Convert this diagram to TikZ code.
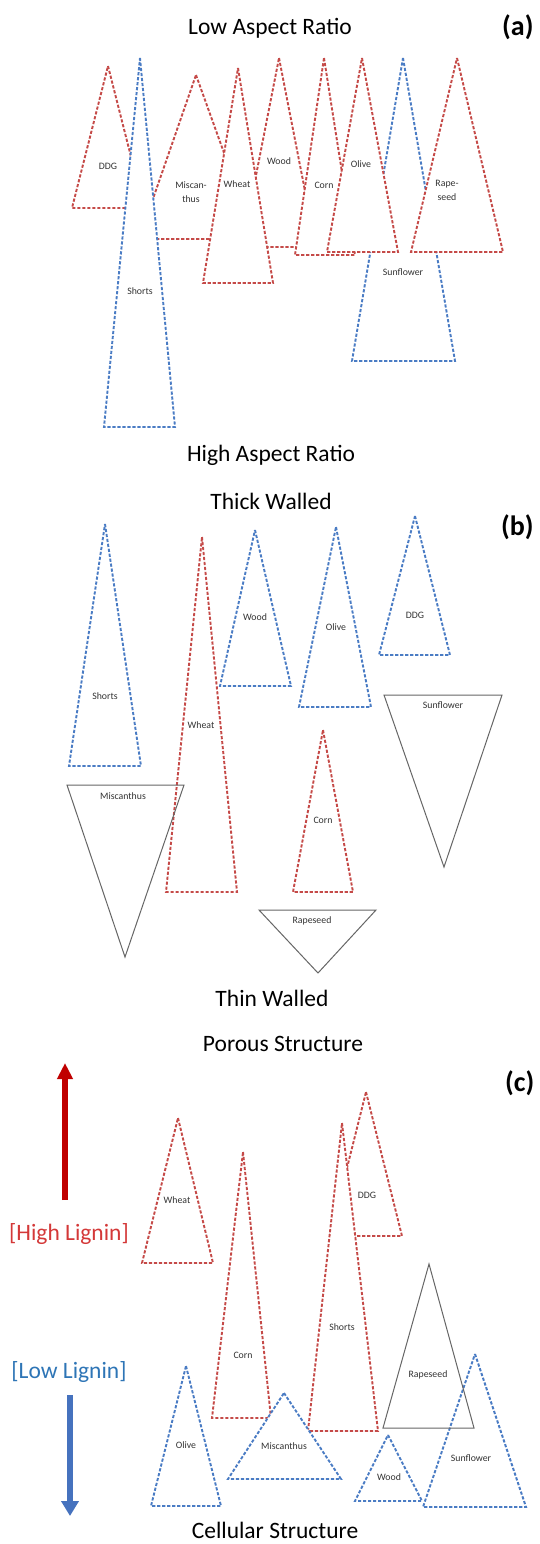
\documentclass[tikz,border=0pt]{standalone}
\usepackage{fontspec}
\setmainfont{Carlito}
\usepackage{tikz}
\usetikzlibrary{arrows.meta}
\definecolor{trired}{RGB}{197,74,72}
\definecolor{triblue}{RGB}{74,124,196}
\definecolor{arrred}{RGB}{192,0,0}
\definecolor{arrblue}{RGB}{70,114,190}
\definecolor{txtred}{RGB}{212,56,56}
\definecolor{txtblue}{RGB}{46,117,182}
\tikzset{
  redtri/.style={draw=trired, fill=white, line width=1.9pt, dash pattern=on 3.2pt off 1.8pt},
  bluetri/.style={draw=triblue, fill=white, line width=1.9pt, dash pattern=on 3.2pt off 1.8pt},
  greytri/.style={draw=black!60, line width=1pt},
  heading/.style={font=\fontsize{23.5}{26}\selectfont},
  panel/.style={font=\fontsize{28}{30}\selectfont\bfseries, anchor=west, inner sep=0pt},
  lbl/.style={font=\fontsize{9.8}{14}\selectfont, text=black!80, align=center, inner sep=0pt},
  lignin/.style={font=\fontsize{23.5}{26}\selectfont},
}

\begin{document}
\begin{tikzpicture}[x=1pt,y=-1pt]
\path[fill=white,use as bounding box] (0,0) rectangle (540,1544);

\node[heading] (lowAR) at (270,28) {Low Aspect Ratio};
\node[panel] (pa) at (502,27) {(a)};
\draw[redtri] (108,66) -- (144,208) -- (72,208) -- cycle;
\node[lbl] (aDDG) at (108,166) {DDG};
\draw[redtri] (196,75) -- (255,239) -- (139,239) -- cycle;
\node[lbl] (aMiscanthus) at (191,192) {Miscan-\\thus};
\draw[bluetri] (140,58) -- (175,427) -- (104,427) -- cycle;
\node[lbl] (aShorts) at (140,291) {Shorts};
\draw[redtri] (279,58) -- (316,247) -- (242,247) -- cycle;
\node[lbl] (aWood) at (279,161) {Wood};
\draw[redtri] (238,68) -- (273,283) -- (203,283) -- cycle;
\node[lbl] (aWheat) at (237,184) {Wheat};
\draw[redtri] (324,58) -- (355,255) -- (295,255) -- cycle;
\node[lbl] (aCorn) at (324,185) {Corn};
\draw[bluetri] (403,58) -- (455,361) -- (352,361) -- cycle;
\node[lbl] (aSunflower) at (403,272) {Sunflower};
\draw[redtri] (362,58) -- (398,252) -- (327,252) -- cycle;
\node[lbl] (aOlive) at (361,164) {Olive};
\draw[redtri] (457,58) -- (503,252) -- (411,252) -- cycle;
\node[lbl] (aRapeseed) at (447,190) {Rape-\\seed};
\node[heading] (highAR) at (271,455) {High Aspect Ratio};

\node[heading] (thick) at (271,501) {Thick Walled};
\node[panel] (pb) at (501,527) {(b)};
\draw[bluetri] (105,524) -- (141,766) -- (69,766) -- cycle;
\node[lbl] (bShorts) at (105,696) {Shorts};
\draw[redtri] (202,537) -- (237,892) -- (166,892) -- cycle;
\node[lbl] (bWheat) at (201,725) {Wheat};
\draw[bluetri] (255,530) -- (291,686) -- (220,686) -- cycle;
\node[lbl] (bWood) at (255,617) {Wood};
\draw[bluetri] (336,527) -- (371,707) -- (299,707) -- cycle;
\node[lbl] (bOlive) at (336,627) {Olive};
\draw[bluetri] (415,516) -- (450,655) -- (379,655) -- cycle;
\node[lbl] (bDDG) at (415,615) {DDG};
\draw[redtri] (323,730) -- (353,892) -- (293,892) -- cycle;
\node[lbl] (bCorn) at (323,820) {Corn};
\draw[greytri] (384,695) -- (502,695) -- (444,867) -- cycle;
\node[lbl] (bSunflower) at (443,705) {Sunflower};
\draw[greytri] (67,785) -- (184,785) -- (125,957) -- cycle;
\node[lbl] (bMiscanthus) at (123,796) {Miscanthus};
\draw[greytri] (259,910) -- (376,910) -- (318,973) -- cycle;
\node[lbl] (bRapeseed) at (312,921) {Rapeseed};
\node[heading] (thin) at (272,998) {Thin Walled};

\node[heading] (porous) at (283,1044) {Porous Structure};
\node[panel] (pc) at (505,1083) {(c)};
\coordinate (hiTail) at (65,1200);
\coordinate (hiTip) at (65,1063);
\draw[arrred, line width=5.5pt, -{Triangle[width=15pt,length=16pt]}] (hiTail) -- (hiTip);
\node[lignin, text=txtred] (hiLignin) at (69,1234) {[High Lignin]};
\node[lignin, text=txtblue] (loLignin) at (69,1372) {[Low Lignin]};
\coordinate (loTail) at (70,1395);
\coordinate (loTip) at (70,1516);
\draw[arrblue, line width=6pt, -{Triangle[width=17pt,length=15pt]}] (loTail) -- (loTip);
\draw[redtri] (178,1118) -- (213,1263) -- (142,1263) -- cycle;
\node[lbl] (cWheat) at (177,1200) {Wheat};
\draw[redtri] (243,1152) -- (271,1418) -- (212,1418) -- cycle;
\node[lbl] (cCorn) at (243,1355) {Corn};
\draw[redtri] (366,1092) -- (402,1236) -- (330,1236) -- cycle;
\node[lbl] (cDDG) at (367,1195) {DDG};
\draw[redtri] (342,1123) -- (378,1431) -- (308,1431) -- cycle;
\node[lbl] (cShorts) at (342,1327) {Shorts};
\draw[bluetri] (186,1366) -- (221,1506) -- (151,1506) -- cycle;
\node[lbl] (cOlive) at (186,1445) {Olive};
\draw[bluetri] (284,1393) -- (341,1479) -- (228,1479) -- cycle;
\node[lbl] (cMiscanthus) at (284,1446) {Miscanthus};
\draw[bluetri] (388,1435) -- (422,1501) -- (355,1501) -- cycle;
\node[lbl] (cWood) at (389,1477) {Wood};
\draw[bluetri] (475,1354) -- (526,1507) -- (423,1507) -- cycle;
\node[lbl] (cSunflower) at (471,1458) {Sunflower};
\draw[greytri] (429,1264) -- (474,1428) -- (383,1428) -- cycle;
\node[lbl] (cRapeseed) at (428,1375) {Rapeseed};
\node[heading] (cellular) at (275,1530) {Cellular Structure};
\end{tikzpicture}
\end{document}
